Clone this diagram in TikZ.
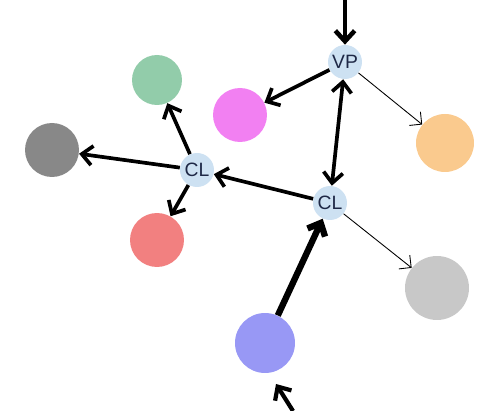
\documentclass[tikz,border=0pt]{standalone}
\usepackage{fontspec}
\setsansfont{Liberation Sans}
\usepackage{xcolor}
\usepackage{tikz}
\usetikzlibrary{arrows.meta}

\definecolor{catblue}{RGB}{205,225,242}
\definecolor{leafgreen}{RGB}{146,204,170}
\definecolor{leafpink}{RGB}{242,128,242}
\definecolor{leaforange}{RGB}{250,202,142}
\definecolor{leafdark}{RGB}{136,136,136}
\definecolor{leafred}{RGB}{242,128,128}
\definecolor{leaflight}{RGB}{200,200,200}
\definecolor{leafblue}{RGB}{152,152,245}
\definecolor{labelnavy}{RGB}{30,40,70}

\begin{document}
\begin{tikzpicture}[x=0.02cm, y=-0.02cm, every node/.style={font=\fontsize{11}{12}\selectfont\sffamily},
    cat/.style={circle, fill=catblue, text=labelnavy, minimum size=0.68cm, inner sep=0pt},
    leaf/.style={circle, minimum size=#1, inner sep=0pt},
    strong/.style={-{Straight Barb[length=6pt,width=11pt]}, line width=2.1pt},
    weak/.style={-{Straight Barb[length=5pt,width=10pt]}, line width=0.5pt}]
    \useasboundingbox (0,0) rectangle (477,411);
    % category nodes
    \node[cat] (vp) at (345,62) {VP};
    \node[cat] (cll) at (197,170) {CL};
    \node[cat] (clr) at (330,203) {CL};
    % leaves
    \node[leaf=1.0cm, fill=leafgreen] (green) at (157,80) {};
    \node[leaf=1.08cm, fill=leafpink] (pink) at (240,115) {};
    \node[leaf=1.16cm, fill=leaforange] (orange) at (445,143) {};
    \node[leaf=1.08cm, fill=leafdark] (dark) at (52,150) {};
    \node[leaf=1.08cm, fill=leafred] (red) at (157,240) {};
    \node[leaf=1.28cm, fill=leaflight] (light) at (437,288) {};
    \node[leaf=1.2cm, fill=leafblue] (blue) at (265,343) {};
    \coordinate (top) at (345,0);
    \coordinate (foot) at (293,411);
    \coordinate (tip) at (276,384);
    % connectors
    \draw[strong, line width=2.6pt] (top) -- (vp);
    \draw[strong] (vp) -- (pink);
    \draw[weak] (vp) -- (orange);
    \draw[strong, {Straight Barb[length=6pt,width=11pt]}-{Straight Barb[length=6pt,width=11pt]}] (clr) -- (vp);
    \draw[strong] (clr) -- (cll);
    \foreach \leafname in {green,dark,red}{
      \draw[strong] (cll) -- (\leafname);
    }
    \draw[weak] (clr) -- (light);
    \draw[strong, line width=3.6pt] (blue) -- (clr);
    \draw[strong, line width=2.4pt] (foot) -- (tip);
  \end{tikzpicture}
\end{document}
